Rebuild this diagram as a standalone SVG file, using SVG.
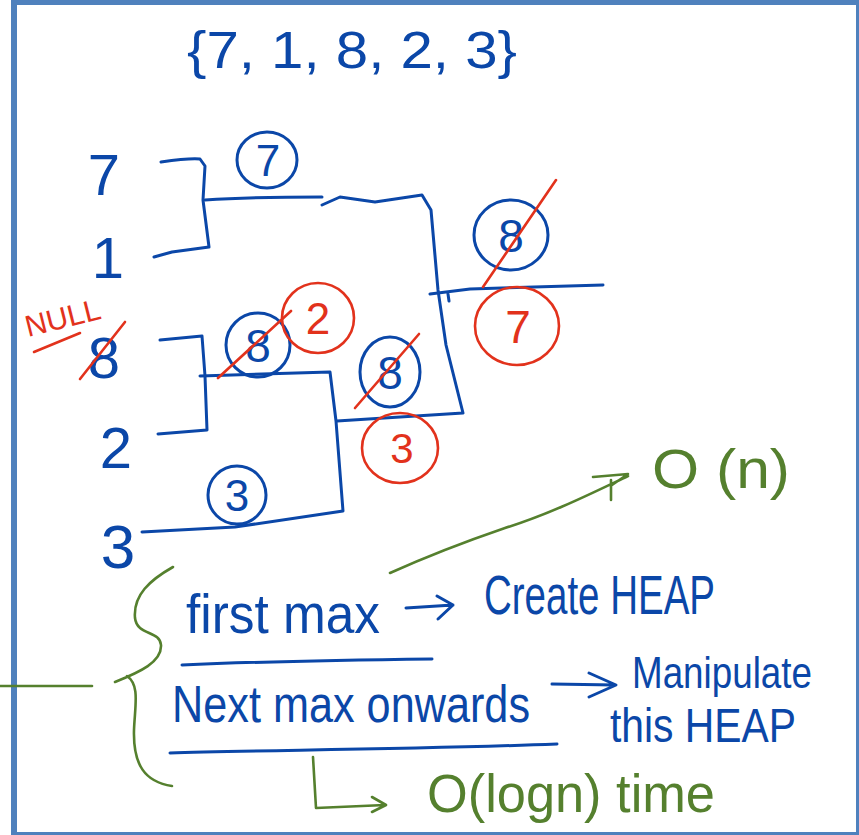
<svg xmlns="http://www.w3.org/2000/svg" width="859" height="835" viewBox="0 0 859 835">
<style>
.b{fill:none;stroke:#0B47A8;stroke-width:3;stroke-linecap:round;stroke-linejoin:round}
.r{fill:none;stroke:#E2321C;stroke-width:2.6;stroke-linecap:round;stroke-linejoin:round}
.g{fill:none;stroke:#55802E;stroke-width:2.6;stroke-linecap:round;stroke-linejoin:round}
.tb{fill:#0B47A8;font-family:"Liberation Sans",Arial,sans-serif}
.tr{fill:#E2321C;font-family:"Liberation Sans",Arial,sans-serif}
.tg{fill:#55802E;font-family:"Liberation Sans",Arial,sans-serif}
.c{text-anchor:middle}
</style>
<rect width="859" height="835" fill="#ffffff"/>
<g id="frame" fill="#4F81BD">
<rect x="11" y="0" width="848" height="5"/>
<rect x="11" y="0" width="6" height="835"/>
<rect x="856" y="0" width="3" height="835"/>
<rect x="11" y="832" width="848" height="3"/>
</g>
<g id="title"><text class="tb" x="187" y="68" font-size="52" textLength="330" lengthAdjust="spacingAndGlyphs">{7, 1, 8, 2, 3}</text></g>
<g id="connectors">
<path class="b" d="M161,162 C175,160 190,158 200,159 L205,166 L203,200 L209,247 L172,252 L154,257"/>
<path class="b" d="M205,200 C250,197 295,197 322,197 M322,205 L340,197 L375,202 L422,195 L431,210 L438,290 L446,345 L463,413 L337,421"/>
<path class="b" d="M430,294 L470,289 L603,285 M448,294 L449,301"/>
<path class="b" d="M160,340 L202,336 L205,376 L207,430 L158,434"/>
<path class="b" d="M200,376 L330,372 L336,421 L343,511 L235,527 L142,532"/>
</g>
<g id="leaf-7"><text class="tb c" x="104" y="195" font-size="58">7</text></g>
<g id="leaf-1"><text class="tb c" x="108" y="278" font-size="58">1</text></g>
<g id="leaf-8"><text class="tb c" x="104" y="378" font-size="58">8</text><line class="r" x1="80" y1="379" x2="125" y2="322"/></g>
<g id="null-label"><text class="tr" x="28" y="337" font-size="30" transform="rotate(-14 28 337)">NULL</text><line class="r" x1="34" y1="352" x2="80" y2="333"/></g>
<g id="leaf-2"><text class="tb c" x="116" y="468" font-size="58">2</text></g>
<g id="leaf-3"><text class="tb c" x="118" y="568" font-size="62">3</text></g>
<g id="node-7"><ellipse class="b" cx="267" cy="160" rx="30" ry="28"/><text class="tb c" x="268" y="176" font-size="44">7</text></g>
<g id="node-8-root"><ellipse class="b" cx="511" cy="235" rx="37" ry="35"/><text class="tb c" x="511" y="252" font-size="46">8</text><line class="r" x1="556" y1="180" x2="483" y2="287"/></g>
<g id="node-7-red"><ellipse class="r" cx="517" cy="326" rx="42" ry="39"/><text class="tr c" x="518" y="343" font-size="46">7</text></g>
<g id="node-8-left"><ellipse class="b" cx="258" cy="345" rx="32" ry="32"/><text class="tb c" x="258" y="362" font-size="46">8</text><line class="r" x1="218" y1="378" x2="291" y2="311"/></g>
<g id="node-2-red"><ellipse class="r" cx="318" cy="318" rx="36" ry="35"/><text class="tr c" x="318" y="334" font-size="44">2</text></g>
<g id="node-8-mid"><ellipse class="b" cx="390" cy="372" rx="30" ry="35"/><text class="tb c" x="390" y="389" font-size="46">8</text><line class="r" x1="355" y1="408" x2="419" y2="334"/></g>
<g id="node-3-red"><ellipse class="r" cx="400" cy="448" rx="38" ry="35"/><text class="tr c" x="402" y="463" font-size="42">3</text></g>
<g id="node-3"><ellipse class="b" cx="237" cy="495" rx="29" ry="29"/><text class="tb c" x="237" y="511" font-size="44">3</text></g>
<g id="notes">
<path class="g" d="M390,573 C430,555 470,540 505,528 C550,514 590,494 628,476 M593,477 L628,474 L612,485 M611,480 L611,500"/>
<text class="tg" x="652" y="488" font-size="56" textLength="138" lengthAdjust="spacingAndGlyphs">O (n)</text>
<path class="g" d="M173,567 C150,580 133,595 135,618 C137,636 160,630 161,645 C162,662 140,672 115,682 M127,676 C140,685 135,705 134,730 C133,765 145,782 172,786"/>
<path class="g" d="M0,686 L92,686"/>
<text class="tb" x="186" y="633" font-size="56" textLength="194" lengthAdjust="spacingAndGlyphs">first max</text>
<path class="b" d="M406,608 L453,605 M437,596 L453,605 L438,619"/>
<text class="tb" x="484" y="614" font-size="56" textLength="231" lengthAdjust="spacingAndGlyphs">Create HEAP</text>
<path class="b" d="M182,665 C250,662 350,660 432,659"/>
<text class="tb" x="172" y="722" font-size="52" textLength="358" lengthAdjust="spacingAndGlyphs">Next max onwards</text>
<path class="b" d="M552,684 L615,685 M589,673 L616,685 L589,697"/>
<text class="tb" x="632" y="688" font-size="44" textLength="180" lengthAdjust="spacingAndGlyphs">Manipulate</text>
<text class="tb" x="610" y="742" font-size="48" textLength="186" lengthAdjust="spacingAndGlyphs">this HEAP</text>
<path class="b" d="M170,753 C250,750 400,750 557,744"/>
<path class="g" d="M313,757 L316,808 L385,805 M372,797 L386,805 L372,812"/>
<text class="tg" x="427" y="812" font-size="54" textLength="288" lengthAdjust="spacingAndGlyphs">O(logn) time</text>
</g>
</svg>
